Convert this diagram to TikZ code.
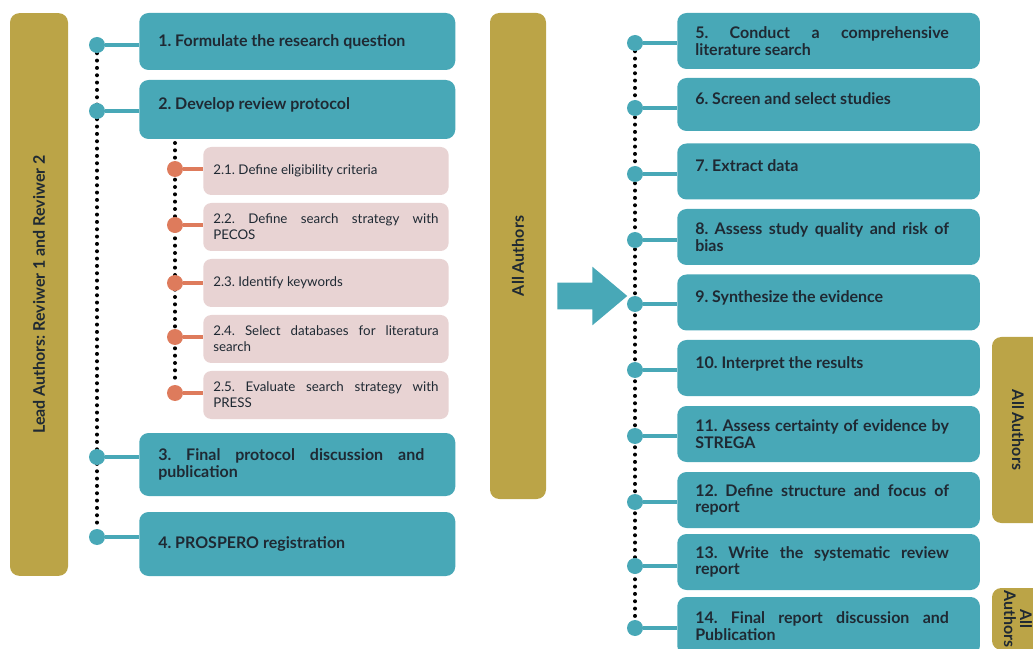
\documentclass[tikz,border=0pt]{standalone}
\usepackage{fontspec}
\setmainfont{Lato}
\usepackage{xcolor}
\usepackage{tikz}
\usetikzlibrary{shapes,arrows,positioning,backgrounds}

\definecolor{tealbox}{HTML}{48A8B7}
\definecolor{goldbar}{HTML}{BBA447}
\definecolor{pinkbox}{HTML}{E8D3D3}
\definecolor{orangedot}{HTML}{DE7B5C}
\definecolor{darktext}{HTML}{1F2933}

\frenchspacing

\begin{document}
\begin{tikzpicture}[
    x=0.75pt,
    y=-0.75pt,
    phase/.style={
        rectangle,
        rounded corners=7pt,
        fill=tealbox,
        text=darktext,
        anchor=west,
        text width=208.5pt,
        inner xsep=14.25pt,
        align=justify,
        minimum height=42pt,
        font=\fontsize{12}{12.3}\selectfont\bfseries,
        execute at begin node={\rightskip 9pt\relax}
    },
    rphase/.style={
        phase,
        text width=200pt,
        inner xsep=13.5pt,
        execute at begin node={\rightskip 9.75pt\relax}
    },
    raised/.style={
        text depth=8.5pt
    },
    subphase/.style={
        rectangle,
        rounded corners=6pt,
        fill=pinkbox,
        text=darktext,
        anchor=west,
        text width=169pt,
        inner xsep=7.5pt,
        align=justify,
        minimum height=36pt,
        font=\fontsize{10}{11.8}\selectfont
    },
    band/.style={
        rectangle,
        rounded corners=7pt,
        fill=goldbar,
        text=darktext,
        align=center,
        inner sep=1pt,
        font=\fontsize{12}{12}\selectfont\bfseries
    },
    dotnode/.style={
        circle,
        fill=tealbox,
        minimum size=12pt,
        inner sep=0pt
    },
    subdot/.style={
        dotnode,
        fill=orangedot
    },
    link/.style={
        draw=tealbox,
        line width=3pt
    },
    sublink/.style={
        draw=orangedot,
        line width=3pt
    },
    timeline/.style={
        draw=black,
        line width=3pt,
        dash pattern=on 0pt off 5.5pt,
        line cap=round
    }
]
\useasboundingbox (0,0) rectangle (1033,649);

% Bandele de autori
\node[band, rotate=90, minimum width=422pt, minimum height=43.5pt] (lead) at (39,294.5) {Lead Authors: Reviwer 1 and Reviwer 2};
\node[band, rotate=90, minimum width=364.5pt, minimum height=42pt] (allmid) at (518,256) {All Authors};
\node[band, rotate=-90, minimum width=139.5pt, minimum height=39pt] (allright) at (1018,430) {All Authors};
\node[band, rotate=-90, minimum width=46.5pt, minimum height=39pt] (alllast) at (1018,619) {All\\Authors};

% Etapele autorilor principali
\node[phase, minimum height=42.75pt] (s1) at (139,41.5) {1. Formulate the research question};
\node[phase, raised, minimum height=44.25pt] (s2) at (139,109.5) {2. Develop review protocol};
\node[phase, minimum height=47.25pt] (s3) at (139,464.5) {3. Final protocol discussion and\linebreak publication};
\node[phase, minimum height=48pt] (s4) at (139,544) {4. PROSPERO registration};

% Sub-etapele protocolului
\node[subphase] (s21) at (203,171) {2.1. Define eligibility criteria};
\node[subphase] (s22) at (203,227) {2.2. Define search strategy with\linebreak PECOS};
\node[subphase] (s23) at (203,283) {2.3. Identify keywords};
\node[subphase] (s24) at (203,339) {2.4. Select databases for literatura\linebreak search};
\node[subphase] (s25) at (203,395) {2.5. Evaluate search strategy with\linebreak PRESS};

% Etapele tuturor autorilor
\node[rphase] (s5) at (677,41) {5. Conduct a comprehensive\linebreak literature search};
\node[rphase, raised, minimum height=39.75pt] (s6) at (677,104.5) {6. Screen and select studies};
\node[rphase, raised] (s7) at (677,171.5) {7. Extract data};
\node[rphase] (s8) at (677,237) {8. Assess study quality and risk of\linebreak bias};
\node[rphase, raised] (s9) at (677,302.5) {9. Synthesize the evidence};
\node[rphase, raised] (s10) at (677,368) {10. Interpret the results};
\node[rphase] (s11) at (677,434) {11. Assess certainty of evidence by\linebreak STREGA};
\node[rphase] (s12) at (677,500) {12. Define structure and focus of\linebreak report};
\node[rphase] (s13) at (677,562) {13. Write the systematic review\linebreak report};
\node[rphase, minimum height=43.5pt] (s14) at (677,626) {14. Final report discussion and\linebreak Publication};

% Sageata dintre faze
\node[single arrow, fill=tealbox, anchor=tail, minimum height=52.5pt, minimum width=43.5pt,
      single arrow head extend=12pt, single arrow tip angle=80, inner sep=9.75pt] (flow) at (557,296) {};

% Punctele de pe axe
\node[dotnode] (d1) at (97,45) {};
\node[dotnode] (d2) at (97,111) {};
\node[dotnode] (d3) at (97,457) {};
\node[dotnode] (d4) at (97,537) {};

\node[subdot] (d21) at (175,169) {};
\node[subdot] (d22) at (175,225) {};
\node[subdot] (d23) at (175,283) {};
\node[subdot] (d24) at (175,337) {};
\node[subdot] (d25) at (175,393) {};

\node[dotnode] (d5) at (635,43) {};
\node[dotnode] (d6) at (635,108) {};
\node[dotnode] (d7) at (635,174) {};
\node[dotnode] (d8) at (635,240) {};
\node[dotnode] (d9) at (635,304) {};
\node[dotnode] (d10) at (635,370) {};
\node[dotnode] (d11) at (635,436) {};
\node[dotnode] (d12) at (635,502) {};
\node[dotnode] (d13) at (635,566) {};
\node[dotnode] (d14) at (635,628) {};

\coordinate (subtop) at (175,143);

% Legaturile punct - etapa
\draw[link] (d1.east) -- (d1 -| s1.west);
\draw[link] (d2.east) -- (d2 -| s2.west);
\draw[link] (d3.east) -- (d3 -| s3.west);
\draw[link] (d4.east) -- (d4 -| s4.west);

\draw[sublink] (d21.east) -- (d21 -| s21.west);
\draw[sublink] (d22.east) -- (d22 -| s22.west);
\draw[sublink] (d23.east) -- (d23 -| s23.west);
\draw[sublink] (d24.east) -- (d24 -| s24.west);
\draw[sublink] (d25.east) -- (d25 -| s25.west);

\draw[link] (d5.east) -- (d5 -| s5.west);
\draw[link] (d6.east) -- (d6 -| s6.west);
\draw[link] (d7.east) -- (d7 -| s7.west);
\draw[link] (d8.east) -- (d8 -| s8.west);
\draw[link] (d9.east) -- (d9 -| s9.west);
\draw[link] (d10.east) -- (d10 -| s10.west);
\draw[link] (d11.east) -- (d11 -| s11.west);
\draw[link] (d12.east) -- (d12 -| s12.west);
\draw[link] (d13.east) -- (d13 -| s13.west);
\draw[link] (d14.east) -- (d14 -| s14.west);

% Axele punctate
\begin{scope}[on background layer]
\draw[timeline] (d1) -- (d4);
\draw[timeline] (subtop) -- (d25);
\draw[timeline] (d5) -- (d14);
\end{scope}

\end{tikzpicture}
\end{document}
